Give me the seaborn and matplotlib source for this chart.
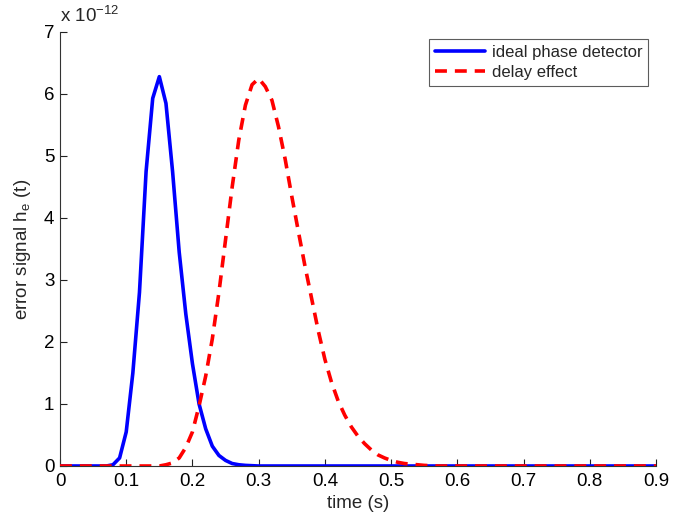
import numpy as np
import pandas as pd
import matplotlib
matplotlib.use("Agg")
import matplotlib.pyplot as plt
import seaborn as sns

# data (values in units of 1e-12)
t_ideal = [0.0, 0.07, 0.08, 0.09, 0.10, 0.11, 0.12, 0.13, 0.14, 0.15, 0.16, 0.17, 0.18,
           0.19, 0.20, 0.21, 0.22, 0.23, 0.24, 0.25, 0.26, 0.27, 0.28, 0.29, 0.30, 0.9]
h_ideal = [0.0, 0.0, 0.02, 0.13, 0.55, 1.5, 2.8, 4.75, 5.93, 6.28, 5.85, 4.75, 3.45,
           2.45, 1.65, 1.0, 0.6, 0.32, 0.17, 0.09, 0.04, 0.02, 0.01, 0.005, 0.0, 0.0]

t_delay = [0.0, 0.15, 0.16, 0.17, 0.18, 0.19, 0.20, 0.21, 0.22, 0.23, 0.24, 0.25, 0.26,
           0.27, 0.28, 0.29, 0.30, 0.31, 0.32, 0.33, 0.34, 0.35, 0.36, 0.37, 0.38, 0.39,
           0.40, 0.41, 0.42, 0.43, 0.44, 0.45, 0.46, 0.47, 0.48, 0.49, 0.50, 0.51, 0.52,
           0.53, 0.54, 0.55, 0.56, 0.57, 0.9]
h_delay = [0.0, 0.0, 0.02, 0.05, 0.13, 0.3, 0.55, 0.97, 1.45, 2.05, 2.8, 3.65, 4.5,
           5.26, 5.82, 6.15, 6.25, 6.12, 5.9, 5.47, 4.95, 4.35, 3.78, 3.22, 2.7, 2.18,
           1.72, 1.35, 1.05, 0.82, 0.63, 0.48, 0.36, 0.26, 0.18, 0.13, 0.09, 0.06, 0.04,
           0.03, 0.02, 0.01, 0.005, 0.0, 0.0]

x_ticks = [0, 0.1, 0.2, 0.3, 0.4, 0.5, 0.6, 0.7, 0.8, 0.9]
y_ticks = [0, 1, 2, 3, 4, 5, 6, 7]

sns.set_style("ticks")
plt.rcParams['font.family'] = ['Liberation Sans', 'DejaVu Sans']
plt.rcParams['mathtext.fontset'] = 'custom'
plt.rcParams['mathtext.rm'] = 'Liberation Sans'
plt.rcParams['mathtext.it'] = 'Liberation Sans'
plt.rcParams['xtick.direction'] = 'in'
plt.rcParams['ytick.direction'] = 'in'

FS = 13.5
fig = plt.figure(figsize=(6.84, 5.2), dpi=100)
ax = fig.add_axes([60/684, 1-466/520, (656-60)/684, (466-32)/520])

df1 = pd.DataFrame({"t": t_ideal, "h": h_ideal})
df2 = pd.DataFrame({"t": t_delay, "h": h_delay})
sns.lineplot(data=df1, x="t", y="h", ax=ax, color=(0, 0, 1), lw=2.6,
             label="ideal phase detector", zorder=2)
sns.lineplot(data=df2, x="t", y="h", ax=ax, color=(1, 0, 0), lw=2.6,
             label="delay effect", zorder=3)
ax.lines[1].set_dashes((3.3, 2.2))

ax.set_xlim(0, 0.9)
ax.set_ylim(0, 7)
ax.set_xticks(x_ticks)
ax.set_xticklabels([("%g" % v) for v in x_ticks])
ax.set_yticks(y_ticks)
ax.tick_params(labelsize=FS, length=5, width=0.8, colors='#222222', labelcolor='black')
ax.tick_params(axis='x', pad=5)
ax.tick_params(axis='y', pad=4)
for s in ['top', 'right']:
    ax.spines[s].set_visible(False)
for s in ['left', 'bottom']:
    ax.spines[s].set_color('#333333')
    ax.spines[s].set_linewidth(0.8)

ax.set_xlabel("time (s)", fontsize=FS, labelpad=4)
ax.set_ylabel("error signal h$_e$ (t)", fontsize=FS, labelpad=8)
fig.text(60/684, 1-16/520, r"x 10$^{-12}$", fontsize=FS, ha='left', va='center')

leg = ax.legend(loc='upper right', bbox_to_anchor=(648/684, 1-39/520),
                bbox_transform=fig.transFigure, frameon=True, fancybox=False,
                fontsize=12, handlelength=3.0, borderpad=0.35, labelspacing=0.3,
                handletextpad=0.4, borderaxespad=0)
leg.get_frame().set_edgecolor('#333333')
leg.get_frame().set_linewidth(0.8)
leg.get_lines()[1].set_dashes((3.3, 2.2))

fig.savefig("out.png", dpi=100)
